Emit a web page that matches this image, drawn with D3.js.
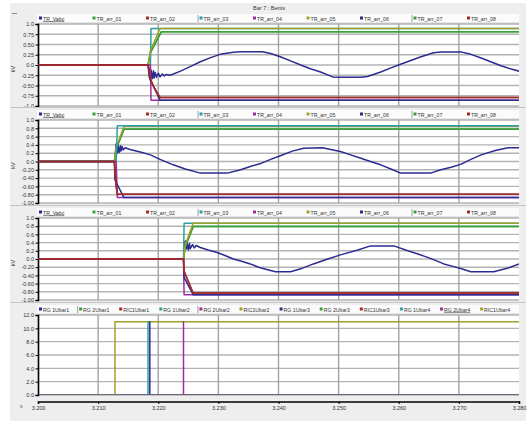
<!DOCTYPE html>
<html><head><meta charset="utf-8">
<script src="https://cdn.jsdelivr.net/npm/d3@7"></script>
<style>
html,body{margin:0;padding:0;background:#fff;}
svg{display:block;font-family:"Liberation Sans",Arial,sans-serif;}
</style>
</head><body>
<svg id="chart" width="527" height="421"></svg>
<script>
// ---- time axis (milliseconds) ----
const timeDomain = [3200, 3280];
const timeTicks = [3200, 3210, 3220, 3230, 3240, 3250, 3260, 3270, 3280];
const timeTickLabels = ["3.200", "3.210", "3.220", "3.230", "3.240", "3.250", "3.260", "3.270", "3.280"];

// ---- value axes ----
const kvTicksA = [1, 0.75, 0.5, 0.25, 0, -0.25, -0.5, -0.75, -1];
const kvTickLabelsA = ["1.0", "0.75", "0.50", "0.25", "0.0", "-0.25", "-0.50", "-0.75", "-1.0"];
const kvTicksB = [1, 0.8, 0.6, 0.4, 0.2, 0, -0.2, -0.4, -0.6, -0.8, -1];
const kvTickLabelsB = ["1.0", "0.8", "0.6", "0.4", "0.2", "0.0", "-0.20", "-0.40", "-0.60", "-0.80", "-1.00"];
const tripTicks = [12, 10, 8, 6, 4, 2, 0];
const tripTickLabels = ["12.0", "10.0", "8.0", "6.0", "4.0", "2.0", "0.0"];

// ---- legends ----
const traceNames = ["TR_Vabc", "TR_arr_01", "TR_arr_02", "TR_arr_03", "TR_arr_04", "TR_arr_05", "TR_arr_06", "TR_arr_07", "TR_arr_08"];
const traceColors = ["#2b2b91", "#36a136", "#a12a2a", "#2aa0a0", "#a12aa1", "#a1a12a", "#2b2b91", "#36a136", "#a12a2a"];
const tripNames = ["RG 1Ubar1", "RG 2Ubar1", "RIC1Ubar1", "RG 1Ubar2", "RG 2Ubar2", "RIC1Ubar2",
                   "RG 1Ubar3", "RG 2Ubar3", "RIC1Ubar3", "RG 1Ubar4", "RG 2Ubar4", "RIC1Ubar4"];
const tripColors = ["#2b2b91", "#36a136", "#a12a2a", "#2aa0a0", "#a12aa1", "#a1a12a",
                    "#2b2b91", "#36a136", "#a12a2a", "#2aa0a0", "#a12aa1", "#a1a12a"];

// ---- panel 1 series: [time ms, kV] ----
const p1Vabc = [[3200,0],[3218.3,0],[3218.5,-0.1],[3218.7,-0.38],[3218.8,-0.12],[3219.0,-0.33],[3219.2,-0.14],
  [3219.3,-0.32],[3219.5,-0.18],[3219.7,-0.3],[3220.0,-0.2],[3220.3,-0.29],[3220.7,-0.22],[3221.0,-0.27],
  [3221.3,-0.23],[3222.0,-0.25],[3223.7,-0.15],[3225.3,-0.04],[3227.0,0.08],[3228.7,0.18],[3230.3,0.26],
  [3232.5,0.31],[3233.7,0.325],[3237.3,0.325],[3238.7,0.28],[3240.3,0.2],[3242.0,0.1],[3243.7,0.0],
  [3245.3,-0.09],[3247.0,-0.17],[3249.0,-0.29],[3250.3,-0.3],[3253.7,-0.3],[3254.8,-0.28],[3257.0,-0.17],
  [3258.7,-0.07],[3260.3,0.02],[3262.0,0.11],[3263.7,0.2],[3265.8,0.3],[3267.0,0.32],[3270.3,0.32],
  [3272.0,0.26],[3273.7,0.17],[3275.3,0.08],[3277.0,-0.02],[3278.7,-0.1],[3280,-0.15]];
const p1Green = [[3200,0],[3218.3,0],[3218.7,0.3],[3220.5,0.81],[3280,0.81]];
const p1Olive = [[3200,0],[3218.3,0],[3218.7,0.35],[3220.3,0.89],[3280,0.89]];
const p1Teal = [[3200,0],[3218.7,0],[3218.8,0.89],[3280,0.89]];
const p1Red = [[3200,0],[3218.3,0],[3218.7,-0.35],[3219.3,-0.55],[3220.3,-0.79],[3280,-0.79]];
const p1Purple = [[3200,0],[3218.7,0],[3218.8,-0.86],[3280,-0.86]];
const p1Navy = [[3200,0],[3218.3,0],[3218.5,-0.3],[3220.3,-0.86],[3280,-0.86]];

// ---- panel 2 series ----
const p2Vabc = [[3200,0],[3212.7,0],[3212.8,0.1],[3213.0,0.42],[3213.2,0.2],[3213.3,0.4],[3213.5,0.22],
  [3213.7,0.38],[3213.8,0.25],[3214.0,0.36],[3214.2,0.28],[3214.5,0.33],[3215.3,0.29],[3217.0,0.23],
  [3218.7,0.16],[3220.3,0.05],[3222.5,-0.08],[3224.5,-0.18],[3227.0,-0.28],[3231.5,-0.28],[3233.7,-0.2],
  [3235.3,-0.12],[3237.0,-0.05],[3238.7,0.05],[3240.3,0.14],[3242.3,0.25],[3244.2,0.32],[3247.3,0.33],
  [3250.3,0.24],[3252.0,0.16],[3253.7,0.08],[3255.3,0.0],[3257.0,-0.08],[3258.7,-0.18],[3260.3,-0.28],
  [3265.3,-0.28],[3267.0,-0.2],[3268.7,-0.14],[3270.3,-0.07],[3272.0,0.05],[3273.7,0.16],[3276.2,0.27],
  [3278.2,0.33],[3280,0.33]];
const p2Green = [[3200,0],[3212.7,0],[3213.0,0.3],[3214.3,0.78],[3280,0.78]];
const p2Olive = [[3200,0],[3212.7,0],[3213.0,0.35],[3214.3,0.85],[3280,0.85]];
const p2Teal = [[3200,0],[3213.0,0],[3213.2,0.86],[3280,0.86]];
const p2Red = [[3200,0],[3212.7,0],[3213.0,-0.6],[3213.2,-0.79],[3280,-0.79]];
const p2Purple = [[3200,0],[3213.0,0],[3213.2,-0.87],[3280,-0.87]];
const p2Navy = [[3200,0],[3212.7,0],[3212.8,-0.45],[3214.3,-0.87],[3280,-0.87]];

// ---- panel 3 series ----
const p3Vabc = [[3200,0],[3224.2,0],[3224.3,0.2],[3224.5,0.44],[3224.7,0.25],[3224.8,0.4],[3225.0,0.22],
  [3225.2,0.38],[3225.3,0.25],[3225.7,0.35],[3226.0,0.27],[3226.3,0.33],[3227.0,0.28],[3228.3,0.22],
  [3229.8,0.16],[3231.2,0.08],[3232.5,0.0],[3234.0,-0.06],[3235.3,-0.12],[3236.7,-0.2],[3238.2,-0.26],
  [3239.5,-0.31],[3242.0,-0.31],[3243.7,-0.24],[3245.8,-0.12],[3248.2,0.0],[3250.3,0.1],[3253.2,0.22],
  [3255.3,0.32],[3259.2,0.32],[3261.5,0.2],[3263.2,0.12],[3264.8,0.04],[3266.2,-0.04],[3267.5,-0.12],
  [3269.0,-0.18],[3270.3,-0.23],[3272.0,-0.31],[3275.8,-0.31],[3278.2,-0.22],[3280,-0.12]];
const p3Green = [[3200,0],[3224.2,0],[3224.5,0.3],[3225.8,0.79],[3280,0.79]];
const p3Olive = [[3200,0],[3224.2,0],[3224.5,0.35],[3225.8,0.87],[3280,0.87]];
const p3Teal = [[3200,0],[3224.2,0],[3224.3,0.87],[3280,0.87]];
const p3Red = [[3200,0],[3224.2,0],[3224.3,-0.3],[3225.8,-0.83],[3280,-0.83]];
const p3Purple = [[3200,0],[3224.2,0],[3224.3,-0.87],[3280,-0.87]];
const p3Navy = [[3200,0],[3224.2,0],[3224.3,-0.45],[3225.8,-0.87],[3280,-0.87]];

// ---- panel 4 trip signals ----
const tripIdle = [[3200,0],[3280,0]];
const tripOlive = [[3200,0],[3212.8,0],[3212.8,11],[3280,11]];
const tripTeal = [[3200,0],[3218.3,0],[3218.3,11],[3218.3,0],[3280,0]];
const tripNavy = [[3200,0],[3218.6,0],[3218.6,11],[3218.6,0],[3280,0]];
const tripPurple = [[3200,0],[3224.2,0],[3224.2,11],[3224.2,0],[3280,0]];

// ---- layout ----
const W = 527, H = 421;
const X0 = 38, X1 = 519;

const panels = [
  { top: 24, bottom: 106, ticks: kvTicksA, labels: kvTickLabelsA, domain: [-1, 1],
    names: traceNames, colors: traceColors, step: 53.5, seps: [3, 7], underline: 0, unit: "kV", clipBottom: 1,
    // [legend index, data] in drawing order
    series: [[0, p1Vabc], [1, p1Green], [7, p1Green], [3, p1Teal], [5, p1Olive], [4, p1Purple], [6, p1Navy], [2, p1Red], [8, p1Red]] },
  { top: 120, bottom: 203, ticks: kvTicksB, labels: kvTickLabelsB, domain: [-1, 1],
    names: traceNames, colors: traceColors, step: 53.5, seps: [3, 7], underline: 0, unit: "kV", clipBottom: 1,
    series: [[0, p2Vabc], [1, p2Green], [7, p2Green], [5, p2Olive], [3, p2Teal], [4, p2Purple], [6, p2Navy], [2, p2Red], [8, p2Red]] },
  { top: 218, bottom: 300, ticks: kvTicksB, labels: kvTickLabelsB, domain: [-1, 1],
    names: traceNames, colors: traceColors, step: 53.5, seps: [3, 7], underline: 0, unit: "kV", clipBottom: 1,
    series: [[0, p3Vabc], [1, p3Green], [7, p3Green], [3, p3Teal], [5, p3Olive], [4, p3Purple], [6, p3Navy], [2, p3Red], [8, p3Red]] },
  { top: 315, bottom: 395, ticks: tripTicks, labels: tripTickLabels, domain: [0, 12],
    names: tripNames, colors: tripColors, step: 40.1, seps: [1, 4], underline: 10, unit: "", clipBottom: -0.8,
    series: [[1, tripIdle], [2, tripIdle], [4, tripIdle], [6, tripIdle], [7, tripIdle], [8, tripIdle], [9, tripIdle], [11, tripIdle],
             [5, tripOlive], [3, tripTeal], [0, tripNavy], [10, tripPurple]] }
];

const svg = d3.select("#chart");
const x = d3.scaleLinear().domain(timeDomain).range([X0, X1]);

// window background
svg.append("rect").attr("x", 10).attr("y", 3).attr("width", 516).attr("height", 418).attr("fill", "#eeeeee");
svg.append("line").attr("x1", 12).attr("x2", 17).attr("y1", 13.5).attr("y2", 13.5).attr("stroke", "#888").attr("stroke-width", 1);

// title
svg.append("text").attr("x", 269).attr("y", 10).attr("text-anchor", "middle")
  .attr("font-size", 5.5).attr("fill", "#333").text("Bar 7 : Bents");

panels.forEach((p, pi) => {
  const g = svg.append("g");
  const y = d3.scaleLinear().domain(p.domain).range([p.bottom, p.top]);

  // panel frame separator
  if (pi > 0) {
    g.append("line").attr("x1", 10).attr("x2", 526).attr("y1", p.top - 12.5).attr("y2", p.top - 12.5)
      .attr("stroke", "#c4c4c4").attr("stroke-width", 1);
  }

  // legend strip
  const ly = p.top - 5;
  g.append("rect").attr("x", 37).attr("y", p.top - 10).attr("width", X1 - 37).attr("height", 9)
    .attr("fill", "#fbfbfb");
  g.append("line").attr("x1", 37).attr("x2", X1).attr("y1", p.top - 1).attr("y2", p.top - 1)
    .attr("stroke", "#d0d0d0").attr("stroke-width", 1);
  p.names.forEach((n, i) => {
    const lx = 39 + i * p.step;
    g.append("rect").attr("x", lx).attr("y", ly - 2.5).attr("width", 3).attr("height", 3).attr("fill", p.colors[i]);
    const t = g.append("text").attr("x", lx + 4).attr("y", ly + 1.5).attr("font-size", 5.2).attr("fill", "#333").text(n);
    if (i === p.underline) t.attr("text-decoration", "underline");
  });
  p.seps.forEach(i => {
    const sx = 39 + i * p.step - 1.5;
    g.append("line").attr("x1", sx).attr("x2", sx).attr("y1", p.top - 9).attr("y2", p.top - 2)
      .attr("stroke", "#888").attr("stroke-width", 0.8);
  });

  // plot area
  g.append("rect").attr("x", X0).attr("y", p.top).attr("width", X1 - X0).attr("height", p.bottom - p.top).attr("fill", "#fff");

  // grid
  g.selectAll(".hg").data(p.ticks).enter().append("line")
    .attr("x1", X0).attr("x2", X1).attr("y1", d => y(d)).attr("y2", d => y(d))
    .attr("stroke", "#b3b3b3").attr("stroke-width", 1.4);
  g.selectAll(".vg").data(timeTicks.slice(1, -1)).enter().append("line")
    .attr("x1", d => x(d)).attr("x2", d => x(d)).attr("y1", p.top).attr("y2", p.bottom)
    .attr("stroke", "#a3a3a3").attr("stroke-width", 1.4);

  // y axis
  const axis = d3.axisLeft(y).tickValues(p.ticks).tickSize(2.5).tickPadding(1.5)
    .tickFormat((d, i) => p.labels[i]);
  const ag = g.append("g").attr("transform", `translate(${X0},0)`).call(axis);
  ag.select(".domain").attr("stroke", "#000").attr("stroke-width", 1.6);
  ag.selectAll(".tick line").attr("stroke", "#000").attr("stroke-width", 1);
  ag.selectAll(".tick text").attr("font-size", 5.5).attr("fill", "#333").attr("font-family", "Liberation Sans, Arial, sans-serif");

  if (p.unit) {
    g.append("text").attr("transform", `translate(15,${(p.top + p.bottom) / 2 + 4}) rotate(-90)`)
      .attr("text-anchor", "middle").attr("font-size", 5.5).attr("fill", "#333").text(p.unit);
  }

  // traces
  const line = d3.line().x(d => x(d[0])).y(d => y(d[1]));
  const clipId = "clip" + pi;
  g.append("clipPath").attr("id", clipId).append("rect")
    .attr("x", X0 + 0.8).attr("y", p.top - 1).attr("width", X1 - X0 - 0.8).attr("height", p.bottom - p.top + 1 + p.clipBottom);
  const tg = g.append("g").attr("clip-path", `url(#${clipId})`);
  p.series.forEach(([ci, data]) => {
    tg.append("path").attr("d", line(data)).attr("fill", "none")
      .attr("stroke", p.colors[ci]).attr("stroke-width", 1.5).attr("stroke-linejoin", "round");
  });
});

// time axis
const xAxis = d3.axisBottom(x).tickValues(timeTicks).tickSize(2.5).tickPadding(2)
  .tickFormat((d, i) => timeTickLabels[i]);
const xg = svg.append("g").attr("transform", "translate(0,401.5)").call(xAxis);
xg.select(".domain").attr("stroke", "#000").attr("stroke-width", 1.6);
xg.selectAll(".tick line").attr("stroke", "#000").attr("stroke-width", 1);
xg.selectAll(".tick text").attr("font-size", 5.5).attr("fill", "#333").attr("font-family", "Liberation Sans, Arial, sans-serif");
svg.append("text").attr("x", 20).attr("y", 408).attr("font-size", 5).attr("fill", "#555").text("s");
</script>
</body></html>
